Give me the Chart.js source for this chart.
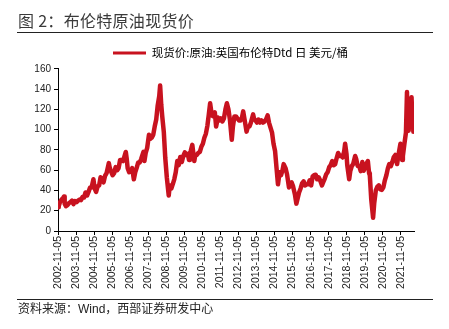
<!DOCTYPE html>
<html lang="zh-CN">
<head>
  <meta charset="UTF-8" />
  <title>布伦特原油现货价</title>
  <script src="https://cdn.jsdelivr.net/npm/chart.js"></script>
  <style>
    * { box-sizing: border-box; }

    body {
      margin: 0;
      background: #fff;
    }

    .figure {
      position: relative;
      width: 449px;
      height: 329px;
      overflow: hidden;
    }

    .figure canvas {
      position: absolute;
      left: 0;
      top: 0;
    }

    .fig-title {
      position: absolute;
      left: 18px;
      top: 9px;
      font-family: 'Noto Sans CJK SC', sans-serif;
      font-size: 16px;
      line-height: 22px;
      color: #3a3a3a;
      letter-spacing: 0.3px;
      white-space: nowrap;
    }

    .rule {
      position: absolute;
      left: 17px;
      width: 416px;
      height: 0;
      border-top: 1px solid #222;
    }

    .fig-source {
      position: absolute;
      left: 18px;
      top: 300px;
      font-family: 'Noto Sans CJK SC', sans-serif;
      font-size: 12px;
      line-height: 16px;
      color: #222;
      white-space: nowrap;
    }

    .fig-source .latin {
      font-family: 'Liberation Sans', Arial, sans-serif;
    }
  </style>
</head>
<body>

  <div class="figure">
    <canvas id="brentChart" width="449" height="329"></canvas>
    <div class="fig-title">图 2：布伦特原油现货价</div>
    <div class="rule" style="top: 32px;"></div>
    <div class="rule" style="top: 299px;"></div>
    <div class="fig-source">资料来源：<span class="latin">Wind</span>，西部证券研发中心</div>
  </div>

  <script>
    // Brent Dtd spot price, USD/bbl (roughly monthly, plus the notable highs and lows)
    const dates = [
      '2002-11-05', '2002-11-20', '2002-12-15',
      '2003-01-15', '2003-02-15', '2003-03-07', '2003-03-20', '2003-04-15', '2003-05-15', '2003-06-15', '2003-07-15', '2003-08-15', '2003-09-15', '2003-10-15', '2003-11-15', '2003-12-15',
      '2004-01-15', '2004-02-15', '2004-03-15', '2004-04-15', '2004-05-15', '2004-06-15', '2004-07-15', '2004-08-15', '2004-09-15', '2004-10-22', '2004-11-15', '2004-12-15',
      '2005-01-15', '2005-02-15', '2005-03-15', '2005-04-15', '2005-05-15', '2005-06-15', '2005-07-15', '2005-08-30', '2005-09-15', '2005-10-15', '2005-11-15', '2005-12-15',
      '2006-01-15', '2006-02-15', '2006-03-15', '2006-04-15', '2006-05-15', '2006-06-15', '2006-07-15', '2006-08-08', '2006-08-25', '2006-09-15', '2006-10-15', '2006-11-15', '2006-12-15',
      '2007-01-18', '2007-02-15', '2007-03-15', '2007-04-15', '2007-05-15', '2007-06-15', '2007-07-31', '2007-08-20', '2007-09-15', '2007-10-15', '2007-11-20', '2007-12-15',
      '2008-01-15', '2008-02-15', '2008-03-15', '2008-04-15', '2008-05-15', '2008-06-15', '2008-07-03', '2008-07-25', '2008-08-15', '2008-09-15', '2008-10-15', '2008-11-15', '2008-12-24',
      '2009-01-15', '2009-02-15', '2009-03-15', '2009-04-15', '2009-05-15', '2009-06-15', '2009-07-15', '2009-08-15', '2009-09-15', '2009-10-15', '2009-11-15', '2009-12-15',
      '2010-01-15', '2010-02-08', '2010-02-25', '2010-03-15', '2010-04-15', '2010-05-25', '2010-06-15', '2010-07-15', '2010-08-15', '2010-09-15', '2010-10-15', '2010-11-15', '2010-12-15',
      '2011-01-15', '2011-02-15', '2011-03-15', '2011-04-11', '2011-05-15', '2011-06-15', '2011-07-15', '2011-08-10', '2011-09-15', '2011-10-15', '2011-11-15', '2011-12-15',
      '2012-01-15', '2012-02-15', '2012-03-15', '2012-04-15', '2012-05-15', '2012-06-22', '2012-07-15', '2012-08-15', '2012-09-15', '2012-10-15', '2012-11-15', '2012-12-15',
      '2013-01-15', '2013-02-08', '2013-03-15', '2013-04-17', '2013-05-15', '2013-06-15', '2013-07-15', '2013-08-28', '2013-09-15', '2013-10-15', '2013-11-15', '2013-12-15',
      '2014-01-15', '2014-02-15', '2014-03-15', '2014-04-15', '2014-05-15', '2014-06-18', '2014-07-15', '2014-08-15', '2014-09-15', '2014-10-15', '2014-11-15', '2014-12-15',
      '2015-01-13', '2015-02-15', '2015-03-15', '2015-04-15', '2015-05-08', '2015-06-15', '2015-07-15', '2015-08-24', '2015-09-15', '2015-10-15', '2015-11-15', '2015-12-22',
      '2016-01-20', '2016-02-15', '2016-03-15', '2016-04-15', '2016-05-15', '2016-06-15', '2016-07-15', '2016-08-15', '2016-09-15', '2016-10-15', '2016-11-15', '2016-12-15',
      '2017-01-15', '2017-02-15', '2017-03-15', '2017-04-15', '2017-05-15', '2017-06-21', '2017-07-15', '2017-08-15', '2017-09-15', '2017-10-15', '2017-11-15', '2017-12-15',
      '2018-01-15', '2018-02-15', '2018-03-15', '2018-04-15', '2018-05-15', '2018-06-15', '2018-07-15', '2018-08-15', '2018-09-15', '2018-10-03', '2018-10-31', '2018-11-15', '2018-12-24',
      '2019-01-15', '2019-02-15', '2019-03-15', '2019-04-24', '2019-05-15', '2019-06-15', '2019-07-15', '2019-08-15', '2019-09-16', '2019-10-15', '2019-11-15', '2019-12-15',
      '2020-01-06', '2020-01-31', '2020-02-15', '2020-03-15', '2020-04-21', '2020-05-15', '2020-06-15', '2020-07-15', '2020-08-15', '2020-09-15', '2020-10-15', '2020-11-15', '2020-12-15',
      '2021-01-15', '2021-02-15', '2021-03-15', '2021-04-15', '2021-05-15', '2021-06-15', '2021-07-15', '2021-08-20', '2021-09-15', '2021-10-26', '2021-11-15', '2021-12-01', '2021-12-15',
      '2022-01-15', '2022-02-15', '2022-03-08', '2022-03-16', '2022-03-24', '2022-04-11', '2022-04-20', '2022-05-15', '2022-06-08', '2022-06-20', '2022-07-05', '2022-07-15', '2022-07-28'
    ];

    const prices = [
      23.5, 24.5, 28.5,
      31, 32.5, 34, 27, 24.5, 25.5, 27.5, 28.5, 30, 26.5, 29.5, 28.5, 30,
      31, 30.5, 33.5, 33, 38, 35, 38.5, 43, 43, 51, 42, 38.5,
      44, 45, 53, 52, 48, 54.5, 57, 67, 63, 58.5, 55, 57,
      63, 60, 62, 70, 70, 69, 74, 78, 72, 62, 58, 59, 62,
      51, 58, 62, 67.5, 67.5, 71, 78, 69, 77, 82, 95, 91,
      92, 95, 103, 110, 124, 133, 143.5, 125, 113, 98, 72, 53, 35,
      45, 42, 46, 51, 58, 69, 65, 73, 68, 74, 77.5, 75,
      76, 70, 76, 79, 85, 69, 75, 75, 77, 78, 83, 86, 92,
      96, 104, 115, 126, 114, 113, 117, 103, 112, 109, 111, 108,
      111, 120, 126, 120, 110, 90, 103, 113, 113, 111, 109, 109,
      112, 118, 108, 98, 103, 103, 107, 115, 111, 109, 107, 110,
      107, 109, 107, 108, 110, 114, 107, 102, 97, 86, 79, 62,
      46, 58, 55, 60, 66, 62, 56, 43, 47, 48, 44, 36,
      27, 32, 38, 42, 47, 49, 45, 46, 46, 50, 45, 54,
      55, 55.5, 51, 53, 50, 45, 48, 51.5, 56, 58, 63, 65,
      69, 65, 66, 72, 77, 74, 74, 72.5, 79, 86, 76, 65, 51,
      59, 64, 66, 74, 71, 64, 64, 59, 68, 59.5, 63, 67,
      69, 57, 55, 31, 13, 28, 40, 43.5, 45, 41, 40.5, 43, 50,
      55, 62, 66, 64, 68, 73, 75, 66, 74.5, 86, 81, 70, 74,
      86, 97, 137, 100, 122, 99, 107, 113, 132, 118, 115, 98, 100
    ];

    // Yearly tick labels along the bottom axis, and the value axis range
    const tickLabels = [
      '2002-11-05', '2003-11-05', '2004-11-05', '2005-11-05', '2006-11-05',
      '2007-11-05', '2008-11-05', '2009-11-05', '2010-11-05', '2011-11-05',
      '2012-11-05', '2013-11-05', '2014-11-05', '2015-11-05', '2016-11-05',
      '2017-11-05', '2018-11-05', '2019-11-05', '2020-11-05', '2021-11-05'
    ];
    const yMin = 0;
    const yMax = 160;
    const yStep = 20;

    const seriesName = '现货价:原油:英国布伦特Dtd 日 美元/桶';
    const lineColor = '#C8121F';

    Chart.defaults.font.family = "'Liberation Sans', Arial, sans-serif";
    Chart.defaults.color = '#222';

    const points = dates.map((d, i) => ({ x: Date.parse(d), y: prices[i] }));

    // the legend sits centred over the plot rather than over the whole canvas
    const legendShift = {
      id: 'legendShift',
      afterLayout(chart) {
        const dx = 23.5;
        chart.legend.left += dx;
        chart.legend.right += dx;
      }
    };

    const ctx = document.getElementById('brentChart').getContext('2d');
    const chart = new Chart(ctx, {
      type: 'line',
      data: {
        datasets: [{
          label: seriesName,
          data: points,
          borderColor: lineColor,
          backgroundColor: lineColor,
          borderWidth: 4.5,
          borderJoinStyle: 'round',
          pointRadius: 0,
          tension: 0
        }]
      },
      options: {
        responsive: false,
        animation: false,
        layout: {
          padding: { top: 38.8, left: 0, right: 35, bottom: 0 }
        },
        plugins: {
          tooltip: { enabled: false },
          legend: {
            position: 'top',
            labels: {
              boxWidth: 33,
              boxHeight: 3,
              padding: 8.5,
              color: '#222',
              font: { family: "'Noto Sans CJK SC', sans-serif", size: 11.5 },
              generateLabels: (c) => c.data.datasets.map((ds, i) => ({
                text: ds.label,
                fillStyle: ds.borderColor,
                strokeStyle: ds.borderColor,
                lineWidth: 0,
                datasetIndex: i
              }))
            }
          }
        },
        scales: {
          x: {
            type: 'linear',
            min: Date.parse('2002-11-05'),
            max: Date.parse('2022-07-28'),
            afterBuildTicks: (scale) => {
              scale.ticks = tickLabels.map(t => ({ value: Date.parse(t) }));
            },
            afterFit: (scale) => { scale.height = 98; },
            grid: {
              drawOnChartArea: false,
              drawTicks: true,
              tickLength: 4,
              color: '#000'
            },
            border: { display: true, color: '#000', width: 1 },
            ticks: {
              autoSkip: false,
              minRotation: 90,
              maxRotation: 90,
              padding: 1,
              font: { size: 10.5 },
              color: '#222',
              callback: (value, index) => tickLabels[index]
            }
          },
          y: {
            min: yMin,
            max: yMax,
            afterFit: (scale) => { scale.width = 58; },
            grid: {
              drawOnChartArea: false,
              drawTicks: true,
              tickLength: 4,
              color: '#000'
            },
            border: { display: true, color: '#000', width: 1 },
            ticks: {
              stepSize: yStep,
              padding: 3,
              font: { size: 10 },
              color: '#222'
            }
          }
        }
      },
      plugins: [legendShift]
    });
  </script>
</body>
</html>
